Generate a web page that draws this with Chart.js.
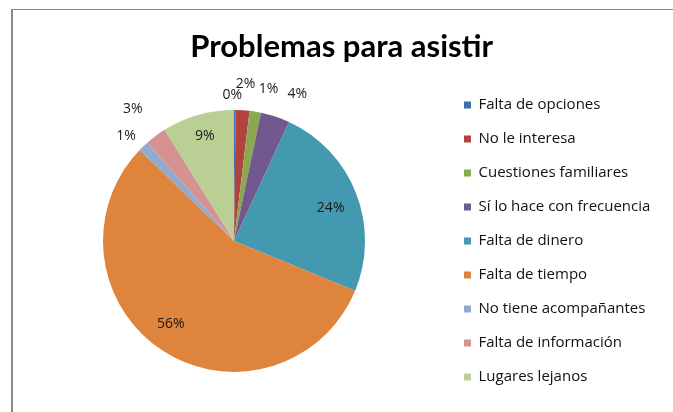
<!DOCTYPE html>
<html>
<head>
<meta charset="utf-8">
<script src="https://cdn.jsdelivr.net/npm/chart.js@4/dist/chart.umd.min.js"></script>
<style>
  html, body { margin: 0; padding: 0; background: #ffffff; }
  #wrap { width: 673px; height: 412px; position: relative; }
</style>
</head>
<body>
<div id="wrap"><canvas id="c" width="673" height="412"></canvas></div>
<script>
// ---- data ----
const chartTitle = "Problemas para asistir";
const categories = [
  "Falta de opciones",
  "No le interesa",
  "Cuestiones familiares",
  "Sí lo hace con frecuencia",
  "Falta de dinero",
  "Falta de tiempo",
  "No tiene acompañantes",
  "Falta de información",
  "Lugares lejanos"
];
const values = [0.2, 1.7, 1.4, 3.6, 24.3, 56.0, 1.3, 2.6, 8.9];

// ---- styles ----
const sliceColors = ["#3F6FAA", "#B0433F", "#8AA84E", "#71598F", "#4399B0", "#DE843D", "#93AAD0", "#D49391", "#B9CF94"];
// label placement: radius factor and angle nudge (deg) per slice
const labelRadiusFactor = [1.11, 1.2, 1.19, 1.22, 0.78, 0.8, 1.15, 1.27, 0.83];
const labelAngleNudge = [-1, 0.4, 3.4, 5, 2.5, 4, -2, -0.7, 0.5];

const TITLE_FONT = "Lato, 'Open Sans', sans-serif";
const FONT = "'Open Sans', Lato, sans-serif";
const legendFontSize = 15;
const legendBox = 7;
const legendPad = 19;

// compute right padding so that the legend starts where the reference has it
const mctx = document.createElement('canvas').getContext('2d');
mctx.font = legendFontSize + "px " + FONT;
let maxW = 0;
categories.forEach(c => { maxW = Math.max(maxW, mctx.measureText(c).width); });
const legendWidth = legendPad + legendBox + legendFontSize / 2 + maxW + 10;
const targetLegendLeft = 445;
const padRight = Math.max(0, 673 - targetLegendLeft - legendWidth);

const framePlugin = {
  id: 'frame',
  beforeDraw(chart) {
    const ctx = chart.ctx;
    ctx.save();
    ctx.fillStyle = '#ffffff';
    ctx.fillRect(0, 0, chart.width, chart.height);
    ctx.strokeStyle = '#8a8a8a';
    ctx.lineWidth = 1;
    ctx.beginPath();
    ctx.moveTo(11, 9.5);
    ctx.lineTo(chart.width, 9.5);
    ctx.stroke();
    ctx.lineWidth = 2;
    ctx.beginPath();
    ctx.moveTo(12, 9);
    ctx.lineTo(12, chart.height);
    ctx.stroke();
    ctx.restore();
  }
};

const pctLabelPlugin = {
  id: 'pctLabels',
  afterDatasetsDraw(chart) {
    const ctx = chart.ctx;
    const meta = chart.getDatasetMeta(0);
    const data = chart.data.datasets[0].data;
    const total = data.reduce((a, b) => a + b, 0);
    ctx.save();
    ctx.font = "14px " + FONT;
    ctx.fillStyle = '#1a1a1a';
    ctx.textAlign = 'center';
    ctx.textBaseline = 'middle';
    meta.data.forEach((arc, i) => {
      const p = arc.getProps(['x', 'y', 'startAngle', 'endAngle', 'outerRadius'], true);
      const mid = (p.startAngle + p.endAngle) / 2 + labelAngleNudge[i] * Math.PI / 180;
      const r = p.outerRadius * labelRadiusFactor[i];
      const tx = p.x + Math.cos(mid) * r;
      const ty = p.y + Math.sin(mid) * r;
      const pct = Math.round(data[i] / total * 100) + '%';
      ctx.fillText(pct, tx, ty);
    });
    ctx.restore();
  }
};

new Chart(document.getElementById('c'), {
  type: 'pie',
  data: {
    labels: categories,
    datasets: [{
      data: values,
      backgroundColor: sliceColors,
      borderWidth: 0,
      radius: 131
    }]
  },
  options: {
    responsive: false,
    animation: false,
    layout: { padding: { left: 23, right: padRight, top: 0, bottom: 3.4 } },
    plugins: {
      title: {
        display: true,
        text: chartTitle,
        color: '#000000',
        font: { family: TITLE_FONT, size: 31, weight: 'bold', lineHeight: 1.2 },
        padding: { top: 28, bottom: 8 }
      },
      legend: {
        position: 'right',
        fullSize: false,
        labels: {
          boxWidth: legendBox,
          boxHeight: legendBox,
          padding: legendPad,
          color: '#111111',
          font: { family: FONT, size: legendFontSize }
        }
      },
      tooltip: { enabled: false }
    }
  },
  plugins: [framePlugin, pctLabelPlugin]
});
</script>
</body>
</html>
